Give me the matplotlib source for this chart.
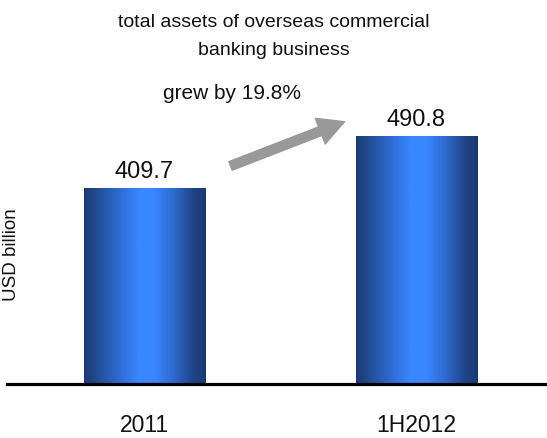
import matplotlib
matplotlib.use("Agg")
import numpy as np
from matplotlib import pyplot as plt
from matplotlib.colors import LinearSegmentedColormap
from matplotlib.patches import FancyArrowPatch

# Данные
periods = ['2011', '1H2012']
assets = [409.7, 490.8]
growth_label = 'grew by 19.8%'

plt.rcParams['font.family'] = ['Liberation Sans', 'DejaVu Sans']

# Горизонтальный градиент для столбцов
bar_cmap = LinearSegmentedColormap.from_list('bar_grad', [
    (0.00, '#1b3a72'),
    (0.12, '#234f97'),
    (0.30, '#2f6ed6'),
    (0.45, '#3a86ff'),
    (0.58, '#3a86ff'),
    (0.75, '#2d67c8'),
    (0.90, '#1f4485'),
    (1.00, '#1b3a72'),
])


def build_graphics(x_labels, values, output_png):
    fig = plt.figure(figsize=(5.47, 4.38), dpi=100)
    ax = fig.add_axes([0.0128, 0.1244, 0.9872, 0.7386])

    x = np.arange(len(values))
    width = 0.445
    y_min = 105
    bars = ax.bar(x, values, width=width, bottom=0, color='none', edgecolor='none')

    grad = np.linspace(0, 1, 256).reshape(1, -1)
    for bar in bars:
        x0 = bar.get_x()
        im = ax.imshow(grad, cmap=bar_cmap, aspect='auto', interpolation='bicubic',
                       extent=(x0, x0 + bar.get_width(), y_min, bar.get_height()),
                       zorder=2)
        im.set_clip_path(bar)

    # подписи значений
    for xi, v in zip(x, values):
        ax.annotate(f'{v}', (xi, v), xytext=(0, 4), textcoords='offset points',
                    ha='center', va='bottom', fontsize=17, color='#111111')

    # стрелка роста
    arrow = FancyArrowPatch((x[0] + 0.307, values[0] + 33), (x[1] - 0.255, values[1] + 24),
                            arrowstyle='simple,head_length=1.7,head_width=1.8,tail_width=0.6',
                            mutation_scale=11, color='#999999', zorder=3)
    ax.add_patch(arrow)
    ax.text(x[0] + 0.32, 557, growth_label, ha='center', va='center',
            fontsize=15, color='#111111')

    ax.set_xlim(-0.5055, 1.48)
    ax.set_ylim(y_min, 609.5)
    ax.set_xticks(x)
    ax.set_xticklabels(x_labels, fontsize=16.5, color='#111111')
    ax.tick_params(axis='x', length=0, pad=22)
    ax.set_yticks([])
    for side in ('left', 'right', 'top'):
        ax.spines[side].set_visible(False)
    ax.spines['bottom'].set_linewidth(2.3)
    ax.spines['bottom'].set_color('black')
    ax.spines['bottom'].set_zorder(5)

    fig.text(0.5, 1 - 36.5 / 438, 'total assets of overseas commercial\nbanking business',
             ha='center', va='center', fontsize=14, linespacing=1.8, color='#111111')
    fig.text(12 / 547, 1 - 255 / 438, 'USD billion', rotation=90,
             ha='center', va='center', fontsize=13.5, color='#111111')

    fig.savefig(output_png, dpi=100)


def main():
    build_graphics(periods, assets, 'out.png')


if __name__ == '__main__':
    main()
